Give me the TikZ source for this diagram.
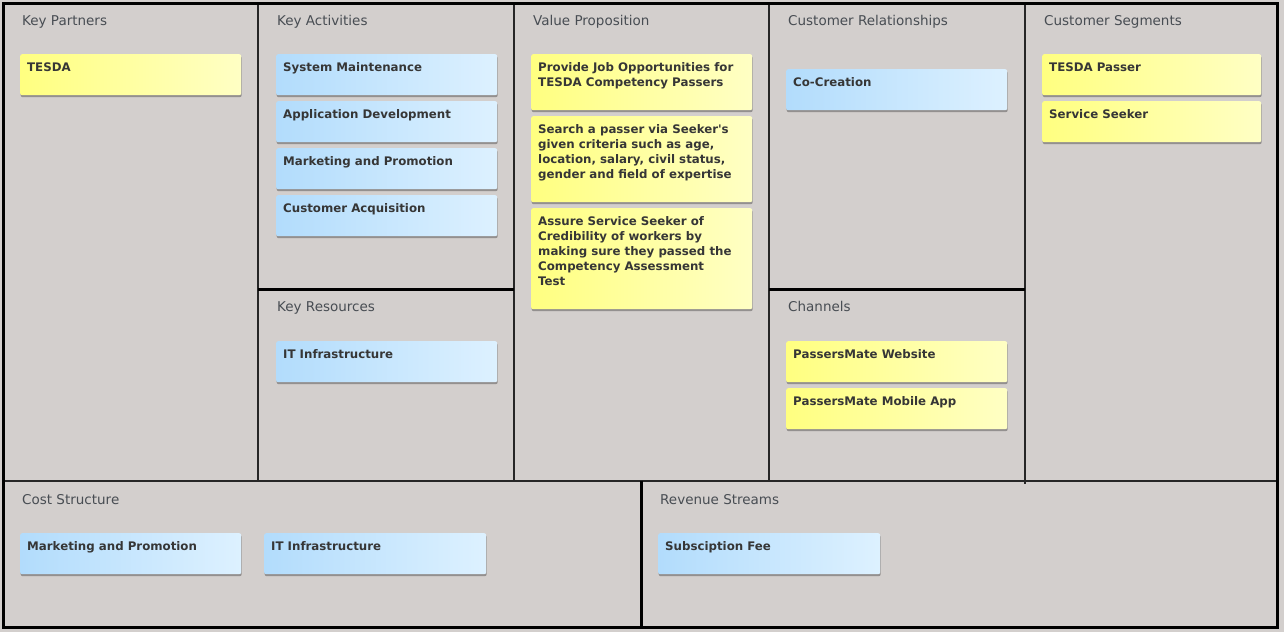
\documentclass[tikz,border=0pt]{standalone}
\usepackage{fontspec}
\setmainfont{DejaVu Sans}
\usetikzlibrary{shadows}
\definecolor{bg}{HTML}{D3CFCD}
\definecolor{headc}{HTML}{484D53}
\definecolor{notec}{HTML}{363636}
\definecolor{ylA}{HTML}{FFFF80}
\definecolor{ylB}{HTML}{FFFFC4}
\definecolor{blA}{HTML}{B2DCFC}
\definecolor{blB}{HTML}{DDF1FF}
\newcommand\stickynote[7]{%
  \node[#2, minimum width=#5, minimum height=#6] (#1) at (#3,#4) {};
  \node[notetext] (#1t) at ([xshift=7pt,yshift=-8.5pt]#1.north west) {#7};}
\begin{document}
\begin{tikzpicture}[x=1pt,y=-1pt,
  notebase/.style={anchor=north west, rounded corners=2pt, inner sep=0pt,
    drop shadow={shadow xshift=0.5pt, shadow yshift=-2pt, fill=black, opacity=0.3}},
  ynote/.style={notebase, left color=ylA, right color=ylB},
  bnote/.style={notebase, left color=blA, right color=blB},
  notetext/.style={anchor=north west, inner sep=0pt, align=left, text=notec,
    font=\fontsize{11.8}{15}\selectfont\bfseries},
  heading/.style={anchor=base west, inner sep=0pt, text=headc, font=\fontsize{13.5}{15}\selectfont},
  thinline/.style={draw=black!85, line width=1.3pt},
  thickline/.style={draw=black, line width=3pt}]
\fill[bg] (0,0) rectangle (1284,632);
\useasboundingbox (0,0) rectangle (1284,632);
% dividers
\draw[thinline] (258,3) -- (258,481);
\draw[thinline] (514,3) -- (514,481);
\draw[thinline] (769,3) -- (769,481);
\draw[thinline] (1025,3) -- (1025,484);
\draw[thinline] (3,481) -- (1277,481);
\draw[thickline] (258,289) -- (514,289);
\draw[thickline] (769,289) -- (1025,289);
\draw[thickline] (641,481) -- (641,627);
\draw[thickline] (3,3) rectangle (1277,627);
% headings
\node[heading] (hKP) at (22,25.5) {Key Partners};
\node[heading] (hKA) at (277,25.5) {Key Activities};
\node[heading] (hVP) at (533,25.5) {Value Proposition};
\node[heading] (hCR) at (788,25.5) {Customer Relationships};
\node[heading] (hCS) at (1044,25.5) {Customer Segments};
\node[heading] (hKR) at (277,311.5) {Key Resources};
\node[heading] (hCH) at (788,311.5) {Channels};
\node[heading] (hCo) at (22,504.5) {Cost Structure};
\node[heading] (hRS) at (660,504.5) {Revenue Streams};
% notes
\stickynote{kp1}{ynote}{20}{54}{221}{41}{TESDA}
\stickynote{ka1}{bnote}{276}{54}{221}{41}{System Maintenance}
\stickynote{ka2}{bnote}{276}{101}{221}{41}{Application Development}
\stickynote{ka3}{bnote}{276}{148}{221}{41}{Marketing and Promotion}
\stickynote{ka4}{bnote}{276}{195}{221}{41}{Customer Acquisition}
\stickynote{vp1}{ynote}{531}{54}{221}{56}{Provide Job Opportunities for\\TESDA Competency Passers}
\stickynote{vp2}{ynote}{531}{116}{221}{86}{Search a passer via Seeker\textquotesingle s\\given criteria such as age,\\location, salary, civil status,\\gender and field of expertise}
\stickynote{vp3}{ynote}{531}{208}{221}{101}{Assure Service Seeker of\\Credibility of workers by\\making sure they passed the\\Competency Assessment\\Test}
\stickynote{cr1}{bnote}{786}{69}{221}{41}{Co-Creation}
\stickynote{cs1}{ynote}{1042}{54}{219}{41}{TESDA Passer}
\stickynote{cs2}{ynote}{1042}{101}{219}{41}{Service Seeker}
\stickynote{kr1}{bnote}{276}{341}{221}{41}{IT Infrastructure}
\stickynote{ch1}{ynote}{786}{341}{221}{41}{PassersMate Website}
\stickynote{ch2}{ynote}{786}{388}{221}{41}{PassersMate Mobile App}
\stickynote{co1}{bnote}{20}{533}{221}{41}{Marketing and Promotion}
\stickynote{co2}{bnote}{264}{533}{222}{41}{IT Infrastructure}
\stickynote{rs1}{bnote}{658}{533}{222}{41}{Subsciption Fee}
\end{tikzpicture}
\end{document}
